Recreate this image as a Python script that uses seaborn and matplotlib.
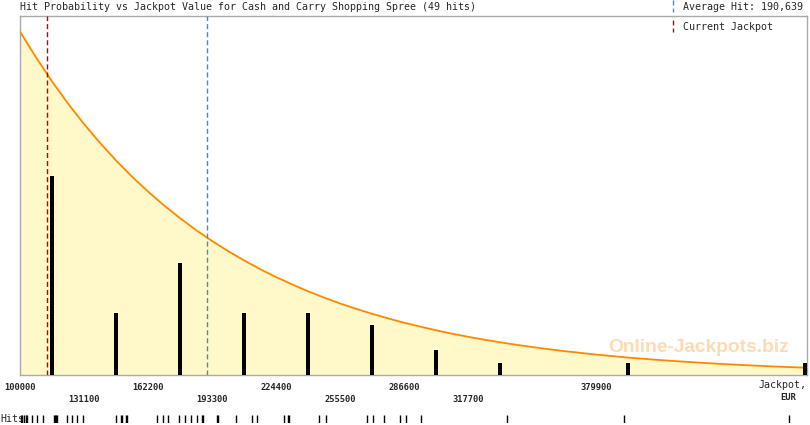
import numpy as np
import pandas as pd
import seaborn as sns
import matplotlib
matplotlib.use("Agg")
from matplotlib import pyplot as plt
from matplotlib.lines import Line2D
from matplotlib.transforms import blended_transform_factory

hits = [100500, 101000, 101900, 102900, 103400, 105800, 108300, 111200,
        116500, 117000, 117500, 118000, 122800, 125300, 127700, 130600,
        146700, 149300, 149800, 151700, 152200,
        166600, 169500, 171900, 177300, 180200, 183100, 186000, 188400, 188900,
        195700, 196200, 205000, 212700, 215200,
        228300, 230200, 230700, 245300, 248700,
        268600, 271500, 276900, 284700,
        287600, 294900,
        336700,
        393500,
        473500]

# probability curve (in hit units), every 7775 EUR
curve_x = [100000 + 7775*n for n in range(49)] + [481000]
curve_y = [27.6, 25.52, 23.59, 21.81, 20.17, 18.65, 17.24, 15.94, 14.74, 13.63,
           12.60, 11.65, 10.77, 9.96, 9.21, 8.51, 7.87, 7.28, 6.73, 6.22,
           5.75, 5.32, 4.92, 4.55, 4.20, 3.89, 3.59, 3.32, 3.07, 2.84,
           2.63, 2.43, 2.25, 2.08, 1.92, 1.78, 1.64, 1.52, 1.40, 1.30,
           1.20, 1.11, 1.03, 0.95, 0.88, 0.81, 0.75, 0.69, 0.64, 0.59]

avg_hit = 190639
current_jackpot = 113100
bin_start = 100000
bin_step = 31100
x_max = 482400

tick_vals = [bin_start + k*bin_step for k in range(13)]
tick_labels = ["100000", "\n131100", "162200", "\n193300", "224400", "\n255500",
               "286600", "\n317700", "", "379900", "", "", ""]

title = "Hit Probability vs Jackpot Value for Cash and Carry Shopping Spree (49 hits)"

sns.set_theme(style="white")
plt.rcParams['font.family'] = ['DejaVu Sans Mono', 'DejaVu Sans']
plt.rcParams['lines.scale_dashes'] = False

W, H = 810, 425
fig = plt.figure(figsize=(W/100, H/100), dpi=100)
fig.patch.set_facecolor("white")
ax = fig.add_axes([20/W, 1-375/H, 787/W, 359/H])
rug_ax = fig.add_axes([20/W, 1-423/H, 787/W, 8/H], sharex=ax)

df_curve = pd.DataFrame({"x": curve_x, "y": curve_y})
ax.fill_between(df_curve.x, df_curve.y, color="#FFF8C8", lw=0, zorder=1)
sns.lineplot(data=df_curve, x="x", y="y", ax=ax, color="#FF8800", lw=1.3, zorder=3)

# hit counts per bin
edges = np.arange(bin_start, x_max + 2*bin_step, bin_step)
counts, edges = np.histogram(hits, bins=edges)
centres = np.minimum(edges[:-1] + bin_step/2, x_max - 950)
ax.bar(centres, counts, width=2000, color="black", lw=0, zorder=4)

dash = (3.6, 2.2)
ax.axvline(current_jackpot, color="#C00000", lw=1, dashes=dash, zorder=5)
ax.axvline(avg_hit, color="#3C8DC8", lw=1, dashes=dash, zorder=5)

ax.set_xlim(bin_start, x_max)
ax.set_ylim(0, 28.85)
ax.set_yticks([])
ax.set_xticks(tick_vals)
ax.set_xticklabels(tick_labels, fontsize=6.3, fontweight="bold", linespacing=1.35)
ax.tick_params(axis="x", direction="out", length=5, width=0.8, color="#AAAAAA", pad=1)
ax.set_xlabel("")
ax.set_ylabel("")
for sp in ax.spines.values():
    sp.set_color("#AAAAAA")
    sp.set_linewidth(1)
ax.set_facecolor("white")

trans = blended_transform_factory(ax.transData, fig.transFigure)
ax.text(x_max - 400, 1-385/H, "Jackpot,", transform=trans, ha="right", va="center",
        fontsize=7.2)
ax.text(tick_vals[-1], 1-397/H, "EUR", transform=trans, ha="center", va="center",
        fontsize=6.3, fontweight="bold")

# hits rug
sns.rugplot(x=hits, ax=rug_ax, height=1, color="black", lw=1, expand_margins=False)
rug_ax.set_ylim(0, 1)
rug_ax.axis("off")
fig.text(0, 1-419/H, "Hits:", ha="left", va="center", fontsize=7.2)

# title and legend
fig.text(20/W, 1-7/H, title, ha="left", va="center", fontsize=7.2)
fig.text(683/W, 1-7/H, "Average Hit: 190,639", ha="left", va="center", fontsize=7.2)
fig.text(683/W, 1-27/H, "Current Jackpot", ha="left", va="center", fontsize=7.2)
fig.add_artist(Line2D([673/W]*2, [1, 1-12/H], color="#3C8DC8", lw=1, dashes=dash))
fig.add_artist(Line2D([673/W]*2, [1-20/H, 1-32/H], color="#C00000", lw=1, dashes=dash))

fig.text(699/W, 1-347/H, "Online-Jackpots.biz", ha="center", va="center",
         fontsize=13.8, fontweight="bold", family="Liberation Sans", color="#FFDAB0")

fig.savefig("out.png", dpi=100)
